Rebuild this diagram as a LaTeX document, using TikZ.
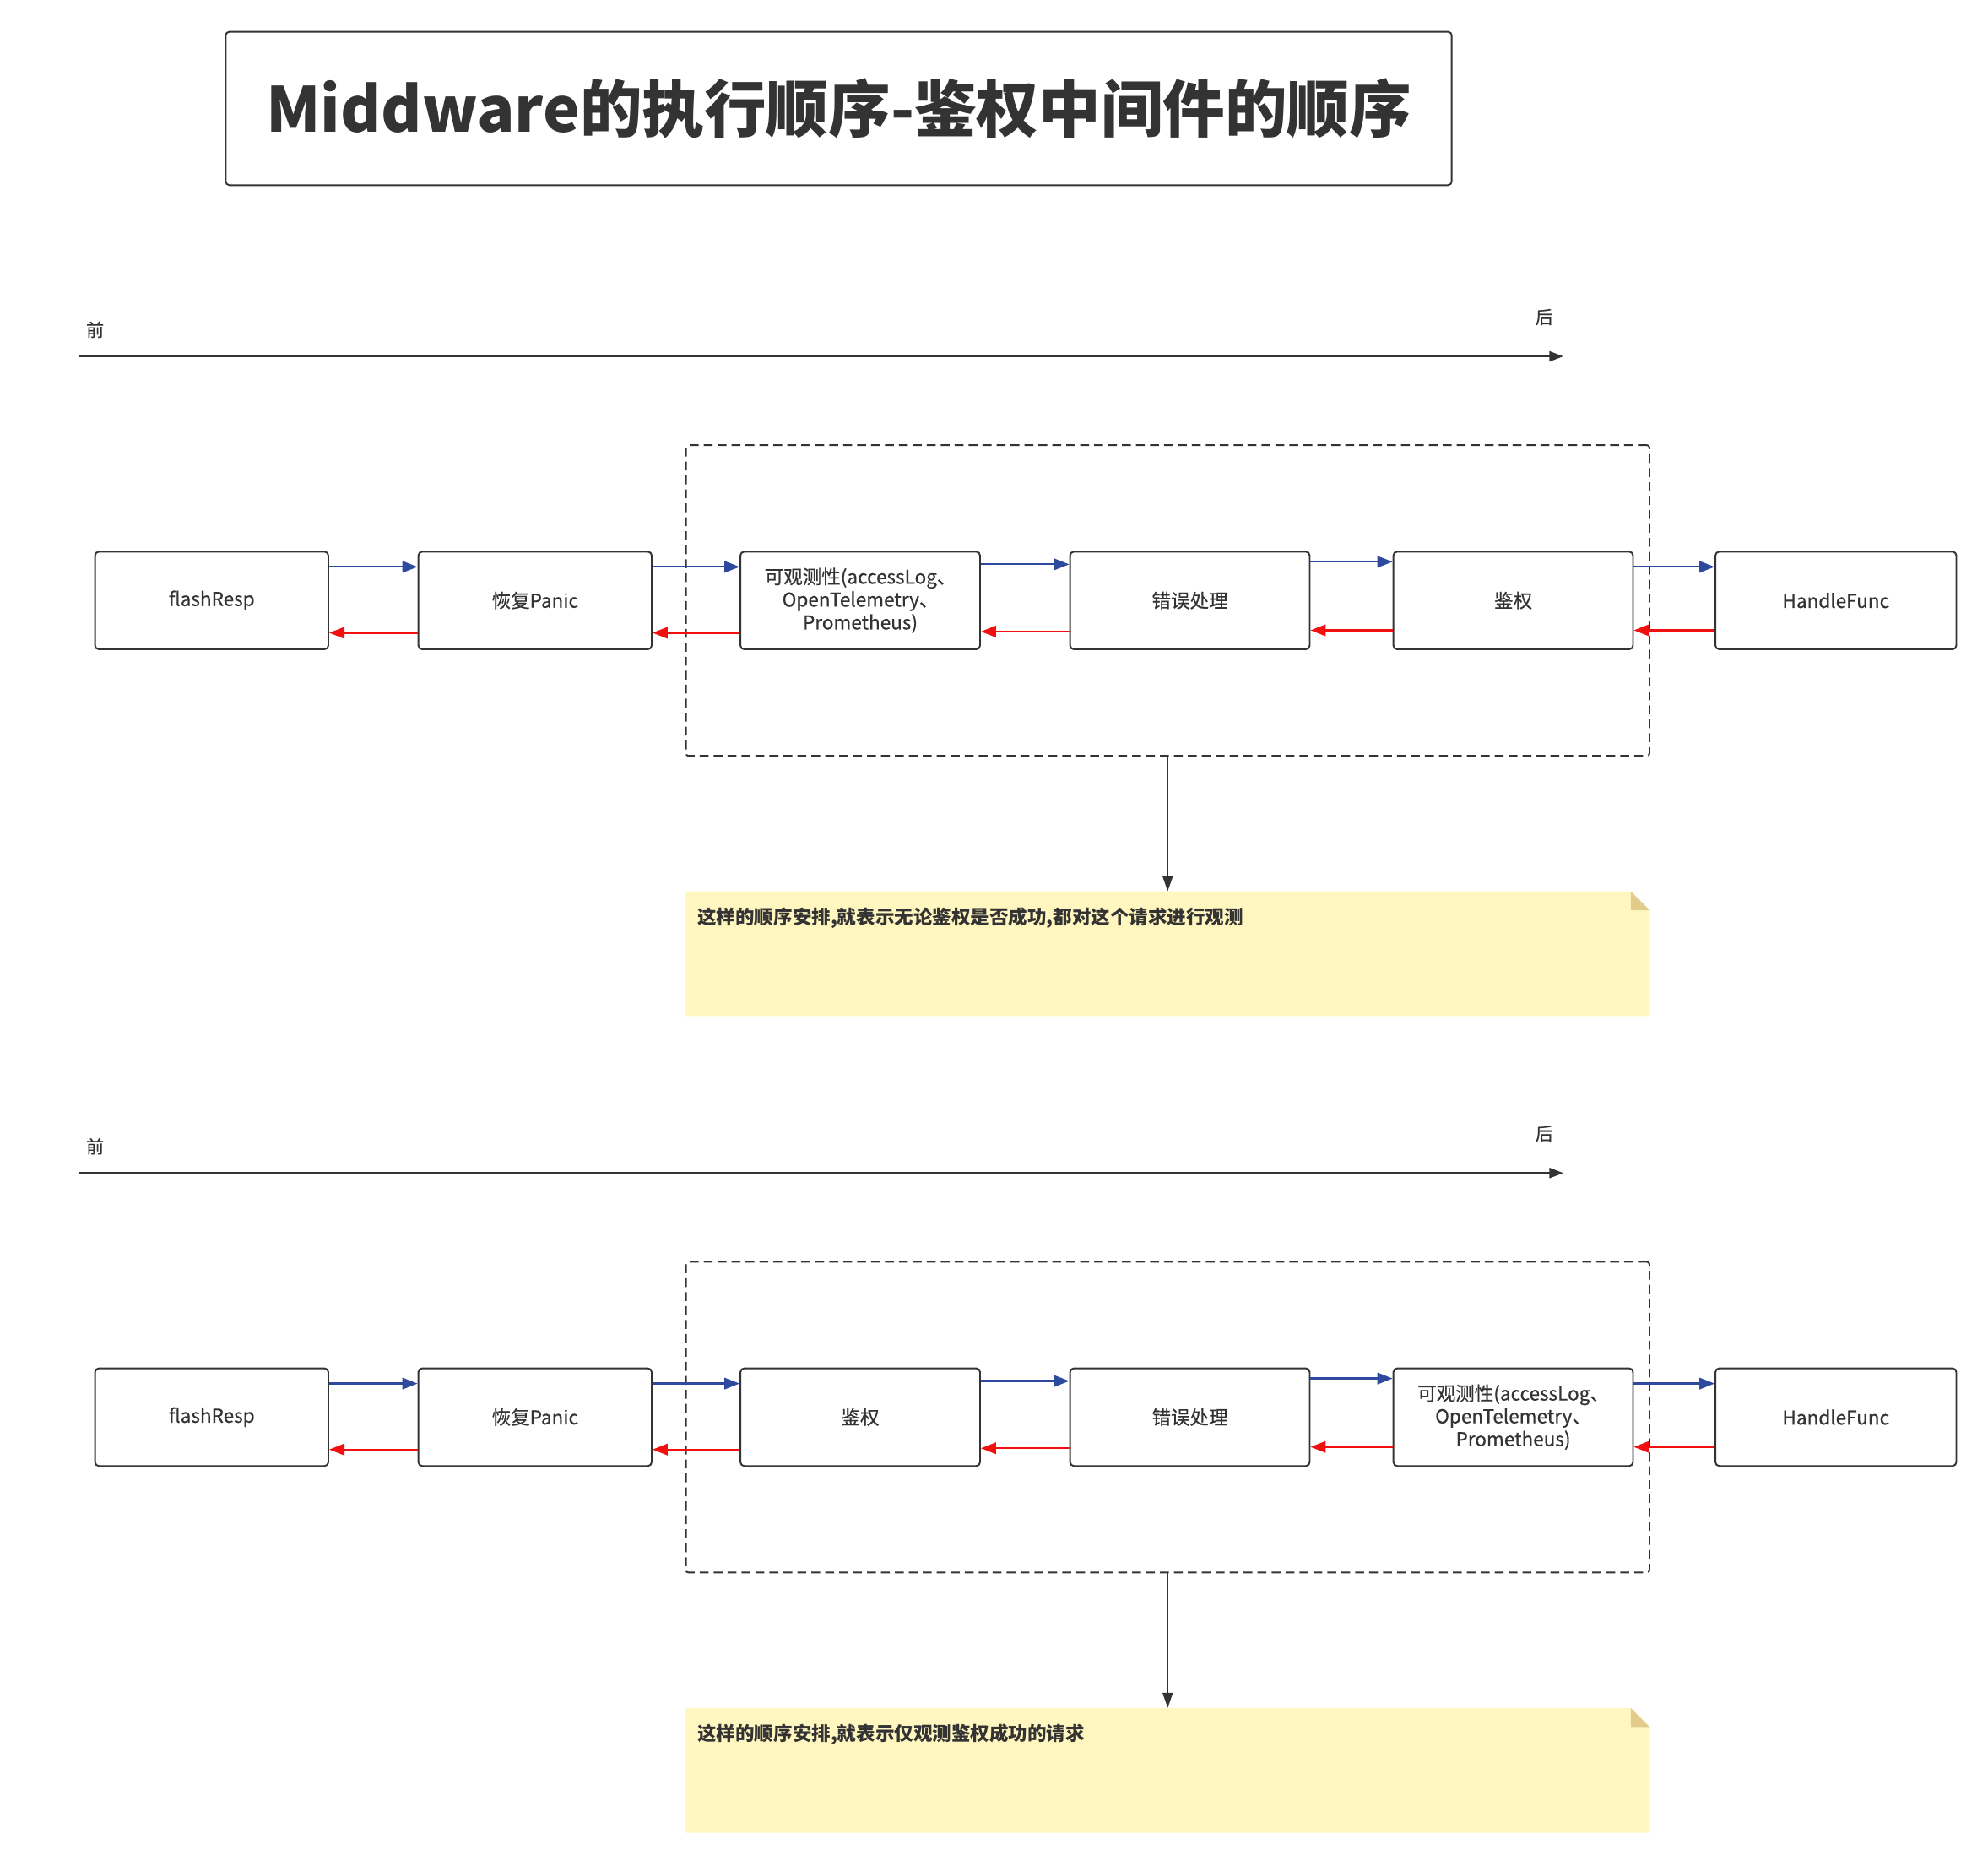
\documentclass[tikz,border=0pt]{standalone}
\usepackage{fontspec}
\setmainfont{Noto Sans CJK SC}
\newfontfamily\nodefont{Noto Sans CJK SC}[FakeBold=0.5]
\usetikzlibrary{arrows.meta}
\definecolor{ink}{HTML}{333333}
\definecolor{fwdblue}{HTML}{2E4A9E}
\definecolor{backred}{HTML}{F01010}
\definecolor{noteyellow}{HTML}{FFF6C0}
\definecolor{notefold}{HTML}{E2CC8C}
\begin{document}
\begin{tikzpicture}[x=1pt,y=-1pt,
  mw/.style={draw=ink, line width=1.3pt, rounded corners=3pt, minimum height=77pt, inner sep=0pt,
    font=\nodefont\fontsize{15}{18}\selectfont, text=ink, align=center},
  fwd/.style={draw=fwdblue, line width=1.5pt, -{Triangle[length=12pt,width=9pt]}},
  back/.style={draw=backred, line width=1.5pt, -{Triangle[length=12pt,width=9pt]}},
  axis/.style={draw=ink, line width=1.5pt, -{Triangle[length=11pt,width=8pt]}},
  down/.style={draw=ink, line width=1.3pt, -{Triangle[length=12pt,width=8pt]}},
  dashbox/.style={draw=ink, line width=1.3pt, dash pattern=on 7pt off 4pt, rounded corners=2pt,
    minimum width=760pt, minimum height=245pt, inner sep=0pt},
  notebox/.style={minimum width=760pt, minimum height=98pt, inner sep=0pt},
  notetext/.style={font=\bfseries\fontsize{15}{18}\selectfont, text=ink, inner sep=0pt, anchor=west},
  axlabel/.style={font=\nodefont\fontsize{14}{16}\selectfont, text=ink, inner sep=0pt},
]
\useasboundingbox (0,0) rectangle (1568,1470.8);

% title
\node[draw=ink, line width=1.3pt, rounded corners=3pt, minimum width=967pt, minimum height=121pt,
  inner sep=0pt, font=\bfseries\fontsize{49}{56}\selectfont, text=ink] (title) at (661.5,85.5)
  {Middware的执行顺序-鉴权中间件的顺序};

% ===== section 1 =====
\node[axlabel] (pre1) at (75,260) {前};
\node[axlabel] (post1) at (1218,250) {后};
\coordinate (ax1s) at (62,281);
\coordinate (ax1e) at (1233,281);
\draw[axis] (ax1s) -- (ax1e);

\node[dashbox] (box1) at (921,473.5) {};

\node[mw, minimum width=184pt] (a1) at (167,473.5) {flashResp};
\node[mw, minimum width=184pt] (b1) at (422,473.5) {恢复Panic};
\node[mw, minimum width=189pt] (c1) at (678.5,473.5) {可观测性(accessLog、\\OpenTelemetry、\\Prometheus)};
\node[mw, minimum width=189pt] (d1) at (938.5,473.5) {错误处理};
\node[mw, minimum width=189pt] (e1) at (1193.5,473.5) {鉴权};
\node[mw, minimum width=190pt] (f1) at (1448,473.5) {HandleFunc};

\draw[fwd] (a1.east |- 0,447) -- (b1.west |- 0,447);
\draw[fwd] (b1.east |- 0,447) -- (c1.west |- 0,447);
\draw[fwd] (c1.east |- 0,445) -- (d1.west |- 0,445);
\draw[fwd] (d1.east |- 0,443) -- (e1.west |- 0,443);
\draw[fwd] (e1.east |- 0,447) -- (f1.west |- 0,447);
\draw[back] (b1.west |- 0,499) -- (a1.east |- 0,499);
\draw[back] (c1.west |- 0,499) -- (b1.east |- 0,499);
\draw[back] (d1.west |- 0,498) -- (c1.east |- 0,498);
\draw[back] (e1.west |- 0,497) -- (d1.east |- 0,497);
\draw[back] (f1.west |- 0,497) -- (e1.east |- 0,497);

\node[notebox] (note1) at (921,752) {};
\fill[noteyellow] (note1.north west) -- ([xshift=-15pt]note1.north east) -- ([yshift=-15pt]note1.north east)
  -- (note1.south east) -- (note1.south west) -- cycle;
\fill[notefold] ([xshift=-15pt]note1.north east) -- ([xshift=-15pt,yshift=-15pt]note1.north east)
  -- ([yshift=-15pt]note1.north east) -- cycle;
\node[notetext] (nt1) at (550,724) {这样的顺序安排,就表示无论鉴权是否成功,都对这个请求进行观测};
\draw[down] (box1.south) -- (note1.north);

% ===== section 2 =====
\node[axlabel] (pre2) at (75,904) {前};
\node[axlabel] (post2) at (1218,894) {后};
\coordinate (ax2s) at (62,925);
\coordinate (ax2e) at (1233,925);
\draw[axis] (ax2s) -- (ax2e);

\node[dashbox] (box2) at (921,1117.5) {};

\node[mw, minimum width=184pt] (a2) at (167,1117.5) {flashResp};
\node[mw, minimum width=184pt] (b2) at (422,1117.5) {恢复Panic};
\node[mw, minimum width=189pt] (c2) at (678.5,1117.5) {鉴权};
\node[mw, minimum width=189pt] (d2) at (938.5,1117.5) {错误处理};
\node[mw, minimum width=189pt] (e2) at (1193.5,1117.5) {可观测性(accessLog、\\OpenTelemetry、\\Prometheus)};
\node[mw, minimum width=190pt] (f2) at (1448,1117.5) {HandleFunc};

\draw[fwd] (a2.east |- 0,1091) -- (b2.west |- 0,1091);
\draw[fwd] (b2.east |- 0,1091) -- (c2.west |- 0,1091);
\draw[fwd] (c2.east |- 0,1089) -- (d2.west |- 0,1089);
\draw[fwd] (d2.east |- 0,1087) -- (e2.west |- 0,1087);
\draw[fwd] (e2.east |- 0,1091) -- (f2.west |- 0,1091);
\draw[back] (b2.west |- 0,1143) -- (a2.east |- 0,1143);
\draw[back] (c2.west |- 0,1143) -- (b2.east |- 0,1143);
\draw[back] (d2.west |- 0,1142) -- (c2.east |- 0,1142);
\draw[back] (e2.west |- 0,1141) -- (d2.east |- 0,1141);
\draw[back] (f2.west |- 0,1141) -- (e2.east |- 0,1141);

\node[notebox] (note2) at (921,1396) {};
\fill[noteyellow] (note2.north west) -- ([xshift=-15pt]note2.north east) -- ([yshift=-15pt]note2.north east)
  -- (note2.south east) -- (note2.south west) -- cycle;
\fill[notefold] ([xshift=-15pt]note2.north east) -- ([xshift=-15pt,yshift=-15pt]note2.north east)
  -- ([yshift=-15pt]note2.north east) -- cycle;
\node[notetext] (nt2) at (550,1368) {这样的顺序安排,就表示仅观测鉴权成功的请求};
\draw[down] (box2.south) -- (note2.north);
\end{tikzpicture}
\end{document}
